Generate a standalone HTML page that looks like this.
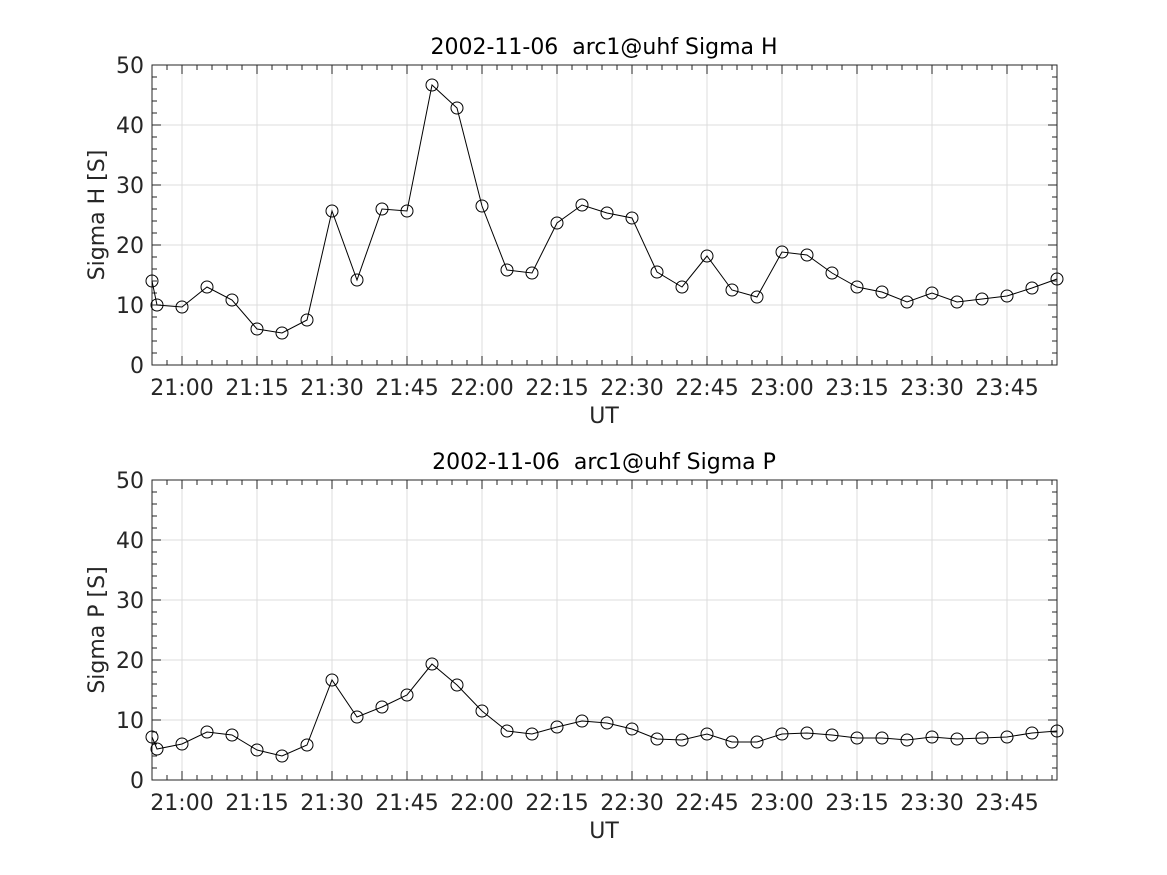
<!DOCTYPE html>
<html><head><meta charset="utf-8"><style>
html,body{margin:0;padding:0;background:#fff;}
svg{display:block;font-family:"DejaVu Sans","Liberation Sans",sans-serif;}
</style></head><body>
<svg id="s" width="1167" height="875" viewBox="0 0 1167 875" xmlns="http://www.w3.org/2000/svg"></svg>
<script>
(function(){
var s=document.getElementById('s');
var h='<rect width="1167" height="875" fill="#fff"/>';
var X0=152,X1=1057;
var labs=['21:00','21:15','21:30','21:45','22:00','22:15','22:30','22:45','23:00','23:15','23:30','23:45'];
var ptsH=[[152,281],[157,305],[182,307],[207,287],[232,300],[257,329],[282,333],[307,320],[332,211],[357,280],[382,209],[407,211],[432,85],[457,108],[482,206],[507,270],[532,273],[557,223],[582,205],[607,213],[632,218],[657,272],[682,287],[707,256],[732,290],[757,297],[782,252],[807,255],[832,273],[857,287],[882,292],[907,302],[932,293],[957,302],[982,299],[1007,296],[1032,288],[1057,279]];
var ptsP=[[152,737],[157,749],[182,744],[207,732],[232,735],[257,750],[282,756],[307,745],[332,680],[357,717],[382,707],[407,695],[432,664],[457,685],[482,711],[507,731],[532,734],[557,727],[582,721],[607,723],[632,729],[657,739],[682,740],[707,734],[732,742],[757,742],[782,734],[807,733],[832,735],[857,738],[882,738],[907,740],[932,737],[957,739],[982,738],[1007,737],[1032,733],[1057,731]];
function ax(Y0,title,ylab,pts){
 var Yb=Y0+300,i,x,y,v,len;
 for(i=0;i<12;i++){x=182+75*i;h+='<line x1="'+x+'" y1="'+Y0+'" x2="'+x+'" y2="'+Yb+'" stroke="#dcdcdc" stroke-width="1"/>';}
 for(v=10;v<50;v+=10){y=Yb-v*6;h+='<line x1="'+X0+'" y1="'+y+'" x2="'+X1+'" y2="'+y+'" stroke="#dcdcdc" stroke-width="1"/>';}
 for(x=167;x<X1;x+=15){len=((x-182)%75===0)?9:5;
  h+='<line x1="'+x+'" y1="'+Yb+'" x2="'+x+'" y2="'+(Yb-len)+'" stroke="#262626"/><line x1="'+x+'" y1="'+Y0+'" x2="'+x+'" y2="'+(Y0+len)+'" stroke="#262626"/>';}
 for(v=0;v<=50;v+=2){y=Yb-v*6;len=(v%10===0)?9:5;
  h+='<line x1="'+X0+'" y1="'+y+'" x2="'+(X0+len)+'" y2="'+y+'" stroke="#262626"/><line x1="'+X1+'" y1="'+y+'" x2="'+(X1-len)+'" y2="'+y+'" stroke="#262626"/>';
  if(v%10===0) h+='<text x="'+(X0-8)+'" y="'+(y+8)+'" font-size="22" text-anchor="end" fill="#262626">'+v+'</text>';}
 h+='<rect x="'+X0+'" y="'+Y0+'" width="'+(X1-X0)+'" height="300" fill="none" stroke="#262626" stroke-width="1"/>';
 for(i=0;i<labs.length;i++){h+='<text x="'+(182+75*i)+'" y="'+(Yb+30)+'" font-size="22" text-anchor="middle" fill="#262626">'+labs[i]+'</text>';}
 h+='<text x="604" y="'+(Yb+58)+'" font-size="22" text-anchor="middle" fill="#262626">UT</text>';
 h+='<text x="604" y="'+(Y0-11)+'" font-size="22" text-anchor="middle" fill="#000">'+title+'</text>';
 h+='<text transform="translate(104,'+(Y0+150)+') rotate(-90)" font-size="22" text-anchor="middle" fill="#262626">'+ylab+'</text>';
 h+='<polyline points="'+pts.map(function(p){return p.join(',');}).join(' ')+'" fill="none" stroke="#000" stroke-width="1"/>';
 for(i=0;i<pts.length;i++){h+='<circle cx="'+pts[i][0]+'" cy="'+pts[i][1]+'" r="6" fill="none" stroke="#000" stroke-width="1"/>';}
}
ax(65,'2002-11-06&#160; arc1@uhf Sigma H','Sigma H [S]',ptsH);
ax(480,'2002-11-06&#160; arc1@uhf Sigma P','Sigma P [S]',ptsP);
s.innerHTML=h;
})();
</script>
</body></html>
